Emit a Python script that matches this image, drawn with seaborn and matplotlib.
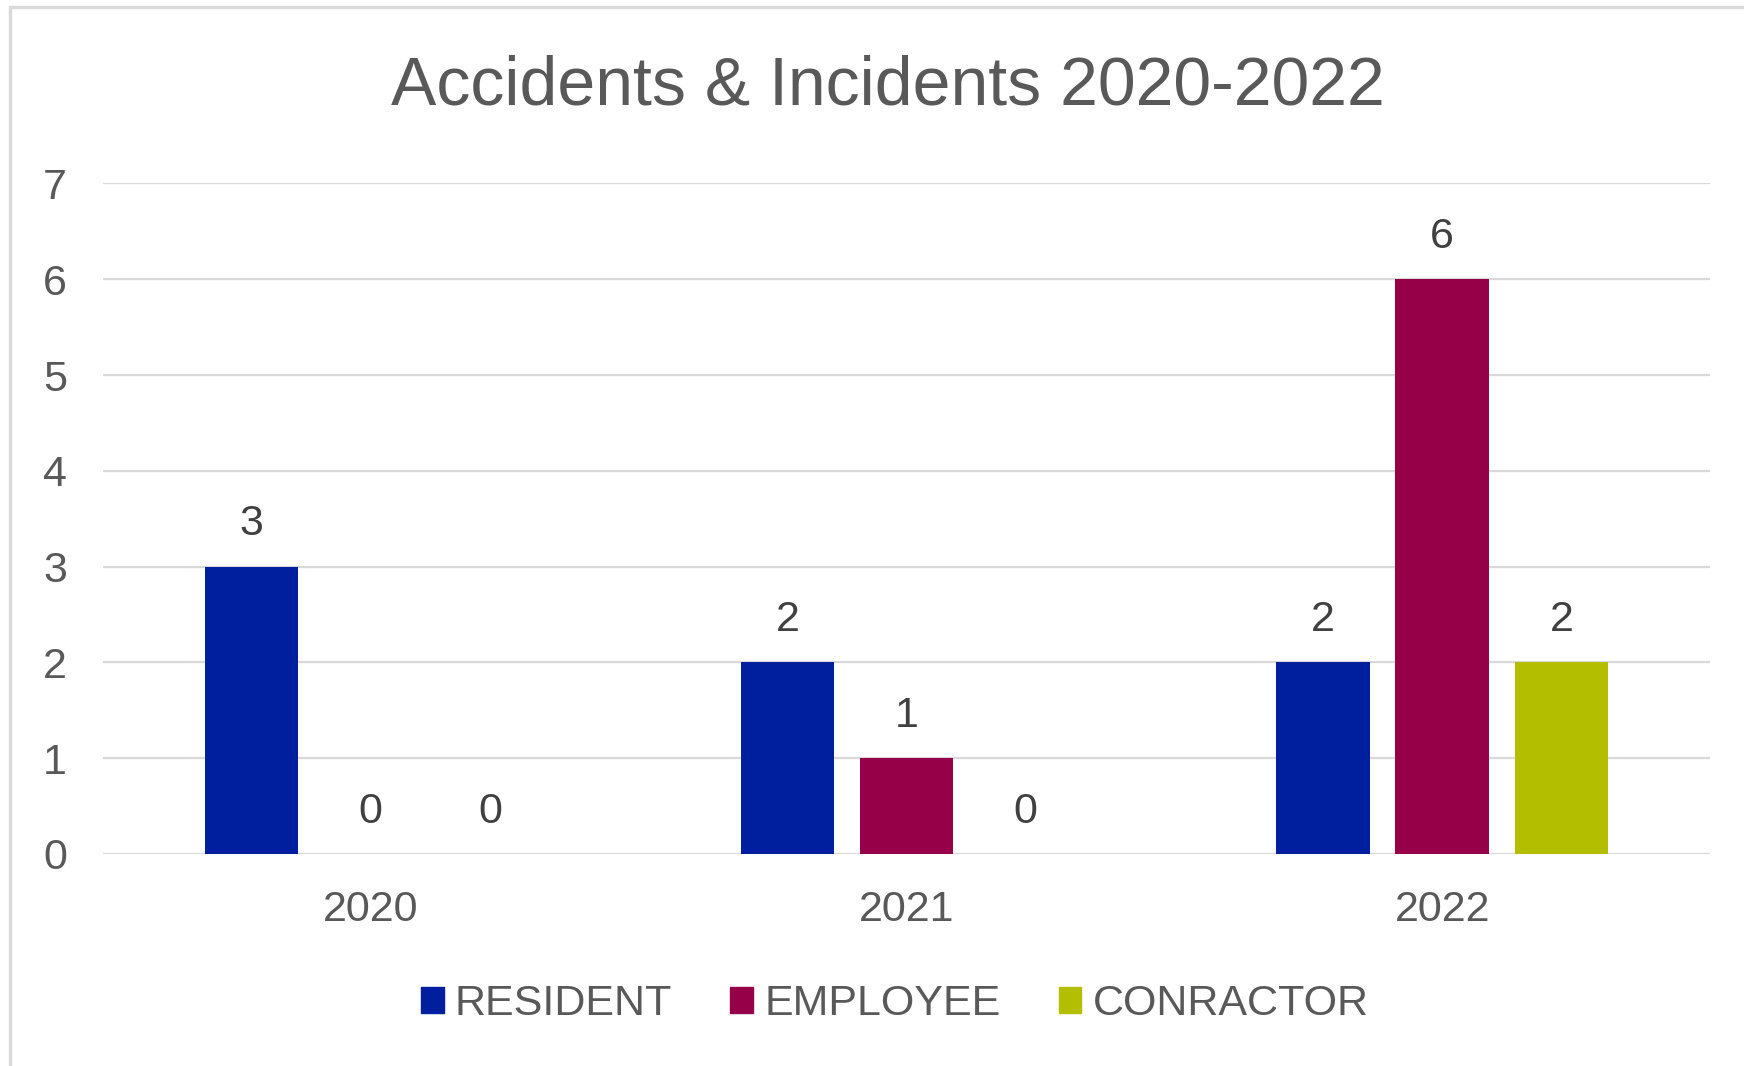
import pandas as pd
import seaborn as sns
import matplotlib.pyplot as plt
from matplotlib.patches import Rectangle

# chart data
years = ["2020", "2021", "2022"]
groups = ["RESIDENT", "EMPLOYEE", "CONRACTOR"]
resident = [3, 2, 2]
employee = [0, 1, 6]
contractor = [0, 0, 2]
colors = ["#001F9F", "#960048", "#B4BE00"]

def build_frame():
    rows = []
    for series, name in zip([resident, employee, contractor], groups):
        for year, val in zip(years, series):
            rows.append({"year": year, "group": name, "count": val})
    return pd.DataFrame(rows)

def plot_chart(df, output_file):
    sns.set_style("white")
    plt.rcParams["font.family"] = ["Liberation Sans", "DejaVu Sans"]
    grey = "#595959"

    fig = plt.figure(figsize=(17.44, 10.66), dpi=100)
    ax = fig.add_axes([0.059, 0.1989, 0.9216, 0.629])

    sns.barplot(data=df, x="year", y="count", hue="group", hue_order=groups,
                palette=colors, saturation=1, width=0.667, gap=0.214,
                linewidth=0, ax=ax)

    ax.set_ylim(0, 7)
    ax.set_xlim(-0.5, 2.5)
    ax.set_yticks(range(0, 8))
    ax.yaxis.grid(True, color="#d9d9d9", linewidth=1.6)
    ax.set_axisbelow(True)
    sns.despine(ax=ax, left=True, bottom=True)
    ax.set_xlabel("")
    ax.set_ylabel("")
    ax.tick_params(axis="x", length=0, pad=26, labelsize=31, labelcolor=grey)
    ax.tick_params(axis="y", length=0, pad=26, labelsize=31, labelcolor=grey)

    for cont in ax.containers:
        ax.bar_label(cont, fmt="%d", padding=16, fontsize=31, color="#404040")

    ax.legend_.remove()
    handles = [Rectangle((0, 0), 1, 1, color=c) for c in colors]
    fig.legend(handles, groups, loc="center", bbox_to_anchor=(0.513, 0.058),
               ncol=3, frameon=False, fontsize=31, labelcolor=grey,
               handlelength=0.53, handleheight=0.53, handletextpad=0.26,
               columnspacing=1.35)

    fig.text(0.509, 0.919, "Accidents & Incidents 2020-2022", ha="center",
             va="center", fontsize=49, color=grey)

    # outer chart border (left/top visible)
    fig.patches.append(Rectangle((10 / 1744, -0.2), 1.2, 1.2 - 7 / 1066,
                                 transform=fig.transFigure, fill=False,
                                 edgecolor="#d9d9d9", linewidth=2.4))

    fig.savefig(output_file, dpi=100)

if __name__ == "__main__":
    plot_chart(build_frame(), "out.png")
